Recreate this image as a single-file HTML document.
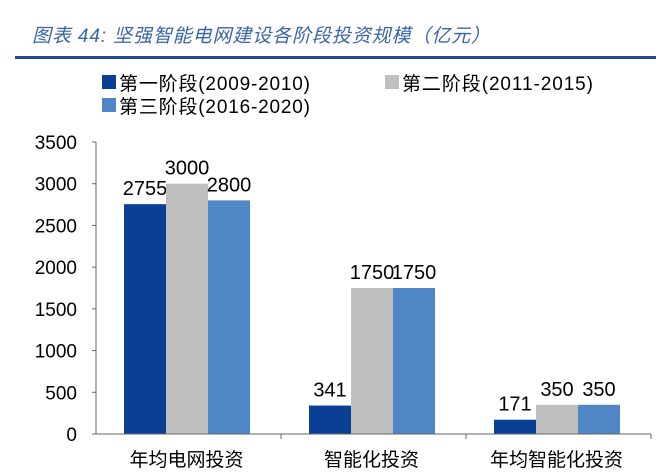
<!DOCTYPE html>
<html><head><meta charset="utf-8">
<style>
body{margin:0;background:#fff;width:669px;height:468px;overflow:hidden;font-family:"Liberation Sans","Noto Sans CJK SC",sans-serif;}
</style></head><body>
<svg width="669" height="468" xmlns="http://www.w3.org/2000/svg">
<text x="32" y="42" font-size="19" font-style="italic" fill="#3a64a8" font-family="Liberation Sans,Noto Sans CJK SC,sans-serif" textLength="458">图表 44: 坚强智能电网建设各阶段投资规模（亿元）</text>
<rect x="15" y="56" width="641" height="3" fill="#1f4e8c"/>
<g id="legend" font-size="19" fill="#000"></g>
<g id="plot"></g>
</svg>
<script>
const categories=["年均电网投资","智能化投资","年均智能化投资"];
const seriesNames=["第一阶段(2009-2010)","第二阶段(2011-2015)","第三阶段(2016-2020)"];
const s1=[2755,341,171];
const s2=[3000,1750,350];
const s3=[2800,1750,350];
const yTicks=[0,500,1000,1500,2000,2500,3000,3500];
const colors=["#0a3f96","#bfbfbf","#4f86c6"];
const NS="http://www.w3.org/2000/svg";
const plot=document.getElementById('plot');
const legend=document.getElementById('legend');
const x0=96,catW=185,y0=434,yMax=3500,yTop=142;
const yS=v=>y0-(v/yMax)*(y0-yTop);
function mk(t,a,p){const e=document.createElementNS(NS,t);for(const k in a)e.setAttribute(k,a[k]);(p||plot).appendChild(e);return e;}
let ax=mk('line',{x1:x0,y1:yTop,x2:x0,y2:y0,stroke:'#666','stroke-width':1});


yTicks.forEach(v=>{
 const t=mk('text',{x:77,y:yS(v)+7,'font-size':19,'text-anchor':'end',fill:'#000'});
 t.textContent=v;
 
 
 const tk=mk('line',{x1:x0-4,y1:yS(v),x2:x0,y2:yS(v),stroke:'#666'});
 
 
});
const series=[s1,s2,s3];
categories.forEach((c,i)=>{
 const cx=x0+i*catW;
 series.forEach((s,j)=>{
  const bx=cx+28+j*42, top=yS(s[i]);
  const r=mk('rect',{x:bx,y:top,width:42,height:y0-top,fill:colors[j]});
  
  
  const l=mk('text',{x:bx+21,y:top-9,'font-size':20,'text-anchor':'middle',fill:'#000'});
  l.textContent=s[i];
  
  
 });
 const cl=mk('text',{x:cx+catW/2-2,y:466,'font-size':19,'text-anchor':'middle',fill:'#000'});
 cl.textContent=c;
 
 
 const tk=mk('line',{x1:cx+catW,y1:y0,x2:cx+catW,y2:y0+5,stroke:'#666'});
 
 
});
let xa=mk('line',{x1:x0,y1:y0,x2:x0+3*catW,y2:y0,stroke:'#666','stroke-width':1});


const lpos=[[102,90],[385,90],[102,113]];
seriesNames.forEach((n,j)=>{
 const [lx,ly]=lpos[j];
 const r=mk('rect',{x:lx,y:ly-15,width:14,height:14,fill:colors[j]},legend);
 
 
 const t=mk('text',{x:lx+17,y:ly,'font-size':19,textLength:191},legend);
 t.textContent=n;
 
 
});
</script>
</body></html>
